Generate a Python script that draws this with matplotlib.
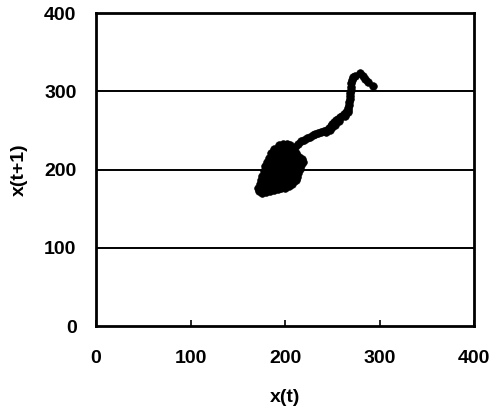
import matplotlib
matplotlib.use("Agg")
import matplotlib.pyplot as plt

# Blob of points around the attractor (x(t), x(t+1))
blob_x = [172,176,180,184,188,192,196,200,204,207,
          171,175,179,183,187,191,195,199,203,209,
          173,177,181,185,189,193,197,201,205,210,212,
          174,178,182,186,190,194,198,202,206,211,213,
          176,180,184,188,192,196,200,204,208,212,214,
          178,182,186,190,194,198,202,206,210,214,216,
          179,183,187,191,195,199,203,207,211,215,217,
          181,185,189,193,197,201,205,209,213,217,219,
          183,187,191,195,199,203,207,211,215,218,
          185,189,193,197,201,205,209,212,
          188,192,196,200,204,207,210,
          194,198,202,205]
blob_y = [172,170,171,172,174,175,176,177,179,182,
          176,175,176,178,179,180,181,181,183,185,
          181,182,181,184,185,186,187,186,188,189,186,
          186,188,187,190,191,192,193,191,193,194,191,
          192,194,193,196,197,198,199,197,199,199,196,
          198,200,202,201,203,204,205,203,204,203,201,
          204,206,207,208,209,208,210,209,210,209,206,
          210,212,213,214,212,214,215,214,215,212,210,
          215,218,219,217,219,220,220,219,216,214,
          221,223,224,222,224,225,223,221,
          226,228,227,229,228,227,229,
          231,232,232,231]

# Trail leaving the blob towards the upper right
trail_x = [214,217,220,223,226,229,232,235,238,241,244,246,248,250,252,254,256,
           258,260,262,264,266,267,268,268,269,269,269,270,270,270,271,272,274,
           279,282,285,288,293,
           243,247,250,253,257,263,266]
trail_y = [232,236,238,240,242,244,246,247,248,249,251,253,255,258,261,263,265,
           267,269,271,273,276,279,282,286,290,294,298,302,306,310,314,318,320,
           323,320,316,312,307,
           248,250,254,257,262,268,273]

ticks = [0, 100, 200, 300, 400]

plt.rcParams['font.family'] = ['Liberation Sans', 'DejaVu Sans']
plt.rcParams['font.weight'] = 'bold'

fig = plt.figure(figsize=(4.95, 4.12), dpi=100)
ax = fig.add_axes([0.194, 0.2087, 0.764, 0.7597])

ax.plot(blob_x, blob_y, 'o', color='black', ms=5.5, mec='black', mew=0.5)
ax.plot(trail_x, trail_y, 'o', color='black', ms=5.5, mec='black', mew=0.5)

ax.set_xlim(0, 400)
ax.set_ylim(0, 400)
ax.set_xticks(ticks)
ax.set_yticks(ticks)
ax.set_xticklabels([str(t) for t in ticks], fontsize=14, fontweight='bold')
ax.set_yticklabels([str(t) for t in ticks], fontsize=14, fontweight='bold')
ax.tick_params(axis='x', direction='in', length=4, width=1.2, pad=17)
ax.tick_params(axis='y', length=0, pad=14)

for y in [100, 200, 300]:
    ax.axhline(y, color='black', lw=1.4, zorder=0)

for s in ax.spines.values():
    s.set_linewidth(2)
    s.set_color('black')

ax.set_xlabel('x(t)', fontsize=14, fontweight='bold', labelpad=16)
ax.set_ylabel('x(t+1)', fontsize=14, fontweight='bold', labelpad=12)

fig.savefig('out.png', dpi=100)
